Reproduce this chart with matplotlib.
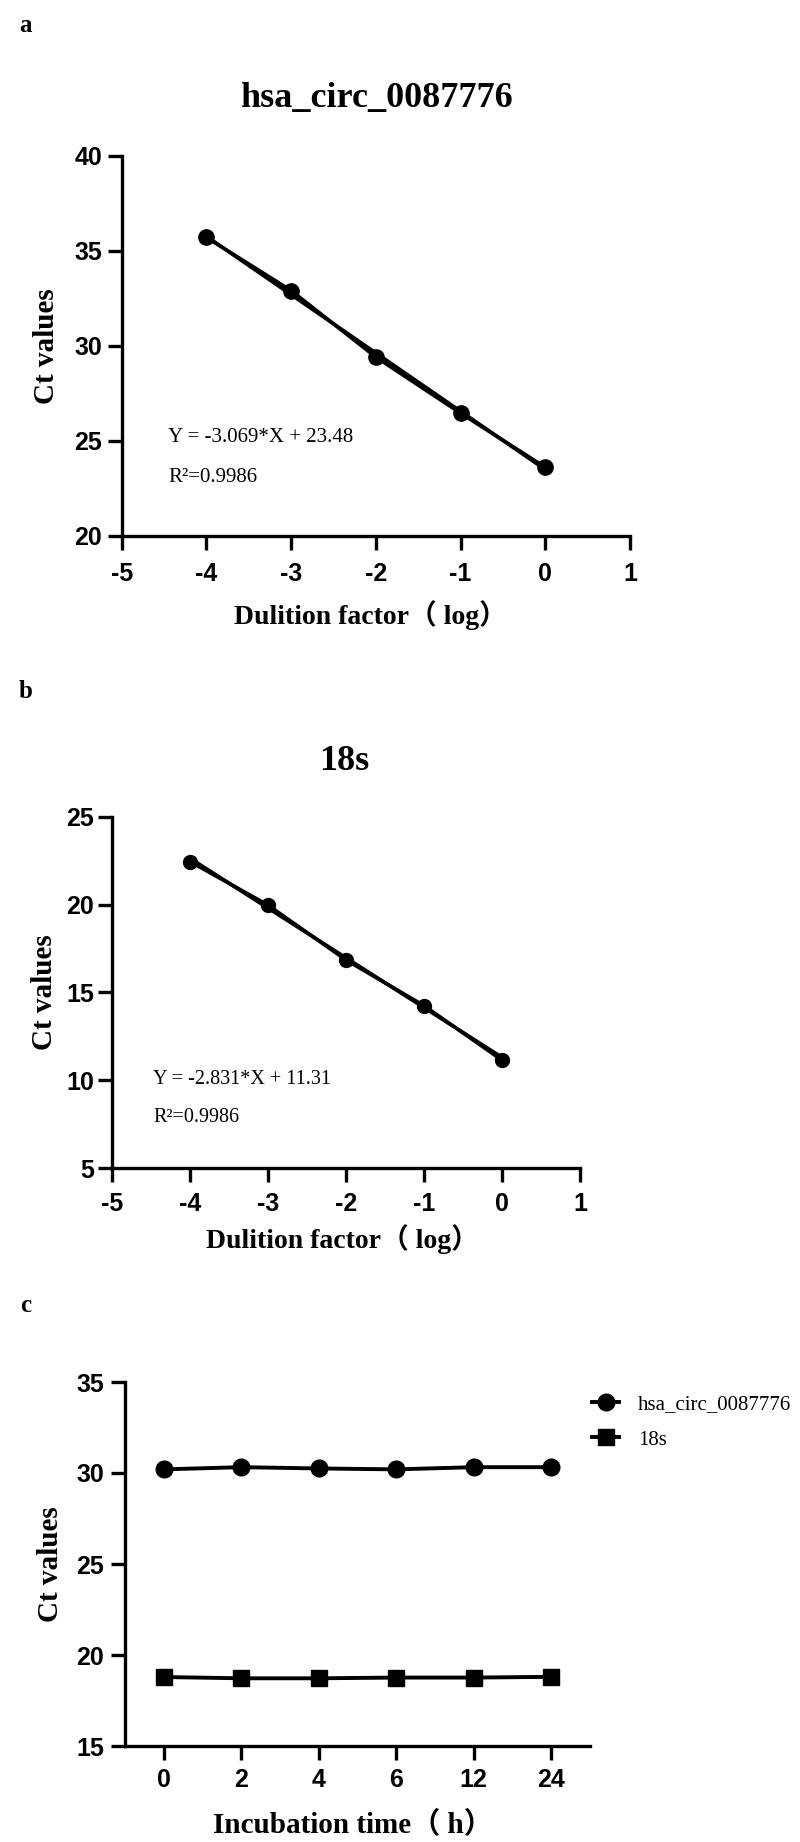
import numpy as np
import matplotlib
matplotlib.use('Agg')
import matplotlib.pyplot as plt

# 刻度上用普通连字符作负号
plt.rcParams['axes.unicode_minus'] = False

# 数据
dilution = [-4, -3, -2, -1, 0]
ct_circ = [35.7, 32.9, 29.4, 26.45, 23.6]
ct_18s = [22.45, 19.97, 16.85, 14.25, 11.15]
fit_circ = (-3.069, 23.48)
fit_18s = (-2.831, 11.31)
eq_circ = ['Y = -3.069*X + 23.48', 'R²=0.9986']
eq_18s = ['Y = -2.831*X + 11.31', 'R²=0.9986']

time_labels = ['0', '2', '4', '6', '12', '24']
stab_circ = [30.2, 30.32, 30.25, 30.2, 30.32, 30.32]
stab_18s = [18.79, 18.72, 18.72, 18.76, 18.76, 18.8]

W, H = 800, 1842
fig = plt.figure(figsize=(W / 100, H / 100), dpi=100)

serif_b = dict(family=['Liberation Serif', 'Noto Sans CJK SC'], weight='bold')
serif = dict(family=['Liberation Serif', 'DejaVu Serif'])


def px(x, y):
    return x / W, 1 - y / H


def axes_px(left, top, right, bottom):
    return fig.add_axes([left / W, 1 - bottom / H, (right - left) / W, (bottom - top) / H])


def style(ax, xpad, ypad):
    for s in ['top', 'right']:
        ax.spines[s].set_visible(False)
    for s in ['left', 'bottom']:
        ax.spines[s].set_linewidth(2.4)
    ax.tick_params(axis='both', length=10, width=2.4, labelsize=18)
    ax.tick_params(axis='x', pad=xpad)
    ax.tick_params(axis='y', pad=ypad)
    for lab in ax.get_xticklabels() + ax.get_yticklabels():
        lab.set_fontfamily('Liberation Sans')
        lab.set_fontweight('bold')


# ---- a ----
ax1 = axes_px(121.7, 155.7, 630, 535.7)
ax1.plot(dilution, ct_circ, color='black', lw=2.6, marker='o', ms=11)
xf = np.array([min(dilution), max(dilution)])
ax1.plot(xf, fit_circ[0] * xf + fit_circ[1], color='black', lw=2.6)
ax1.set_xlim(-5, 1)
ax1.set_ylim(20, 40)
ax1.set_xticks(range(-5, 2))
ax1.set_yticks(range(20, 41, 5))
style(ax1, 9, 4)
fig.text(*px(168, 438), eq_circ[0], fontsize=15, va='center', ha='left', **serif)
fig.text(*px(168, 478), eq_circ[1], fontsize=15, va='center', ha='left', **serif)
fig.text(*px(19, 26), 'a', fontsize=18, va='center', ha='left', **serif_b)
fig.text(*px(376, 99), 'hsa_circ_0087776', fontsize=26, va='center', ha='center', **serif_b)
fig.text(*px(47, 346), 'Ct values', fontsize=21, rotation=90, va='center', ha='center', **serif_b)
fig.text(*px(370, 615), 'Dulition factor（ log）', fontsize=20, va='center', ha='center', **serif_b)

# ---- b ----
ax2 = axes_px(112, 816.7, 580, 1168.3)
ax2.plot(dilution, ct_18s, color='black', lw=2.6, marker='o', ms=10)
ax2.plot(xf, fit_18s[0] * xf + fit_18s[1], color='black', lw=2.6)
ax2.set_xlim(-5, 1)
ax2.set_ylim(5, 25)
ax2.set_xticks(range(-5, 2))
ax2.set_yticks(range(5, 26, 5))
style(ax2, 7, 3)
fig.text(*px(153, 1079), eq_18s[0], fontsize=14.5, va='center', ha='left', **serif)
fig.text(*px(153, 1117), eq_18s[1], fontsize=14.5, va='center', ha='left', **serif)
fig.text(*px(19, 692), 'b', fontsize=18, va='center', ha='left', **serif_b)
fig.text(*px(344, 762), '18s', fontsize=26, va='center', ha='center', **serif_b)
fig.text(*px(44, 992), 'Ct values', fontsize=21, rotation=90, va='center', ha='center', **serif_b)
fig.text(*px(342, 1239), 'Dulition factor（ log）', fontsize=20, va='center', ha='center', **serif_b)

# ---- c ----
ax3 = axes_px(125, 1382, 590, 1746)
xpos = np.arange(len(time_labels))
ax3.plot(xpos, stab_circ, color='black', lw=2.8, marker='o', ms=12, label='hsa_circ_0087776')
ax3.plot(xpos, stab_18s, color='black', lw=2.8, marker='s', ms=11, label='18s')
ax3.set_xlim(-0.5, 5.5)
ax3.set_ylim(15, 35)
ax3.set_xticks(xpos)
ax3.set_xticklabels(time_labels)
ax3.set_yticks(range(15, 36, 5))
style(ax3, 6, 5)
ax3.legend(loc='upper left', bbox_to_anchor=px(592, 1395), bbox_transform=fig.transFigure,
           frameon=False, prop=dict(family='Liberation Serif', size=15),
           handlelength=1.3, handletextpad=0.9, labelspacing=0.75,
           borderpad=0, borderaxespad=0)
fig.text(*px(20, 1305), 'c', fontsize=18, va='center', ha='left', **serif_b)
fig.text(*px(51, 1564), 'Ct values', fontsize=21, rotation=90, va='center', ha='center', **serif_b)
fig.text(*px(353, 1825), 'Incubation time（ h）', fontsize=21, va='center', ha='center', **serif_b)

fig.savefig('out.png', dpi=100, facecolor='white')
